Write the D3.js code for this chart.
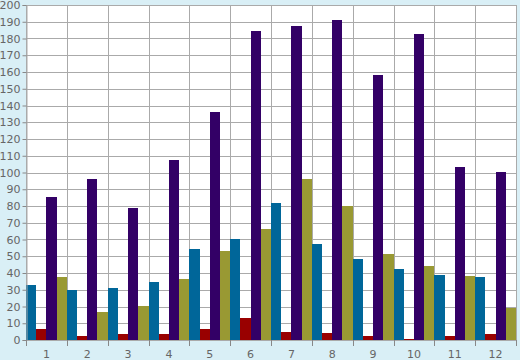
<!DOCTYPE html>
<html><head><meta charset="utf-8">
<script src="https://cdn.jsdelivr.net/npm/d3@7"></script>
<style>html,body{margin:0;padding:0;background:#d9eff6;}svg{display:block;}</style>
</head><body>
<svg id="chart" width="520" height="360"></svg>
<script>
const categories = ["1","2","3","4","5","6","7","8","9","10","11","12"];
const seriesNames = ["A","B","C","D"];
const seriesA = [33, 30, 31, 34.6, 54.3, 60.3, 81.8, 57.3, 48.4, 42.4, 38.8, 37.6];
const seriesB = [6.6, 2.4, 3.6, 3.6, 6.6, 13.1, 4.8, 4.2, 2.4, 0.6, 2.4, 3.6];
const seriesC = [85.6, 96.1, 78.8, 107.5, 136.3, 184.5, 187.5, 191, 158.2, 182.7, 103.3, 100.3];
const seriesD = [37.6, 16.7, 20.3, 36.4, 53.1, 66.3, 96.1, 80, 51.3, 44.2, 38.2, 19.1];
const colors = ["#006699", "#990000", "#330066", "#999933"];
const yTicks = d3.range(0, 201, 10);

(function () {
const allSeries = [seriesA, seriesB, seriesC, seriesD];
const svg = d3.select("#chart");
const pl = 26, pr = 516, pt = 5, pb = 340;

svg.append("rect").attr("x", 0).attr("y", 0).attr("width", 520).attr("height", 360).attr("fill", "#d9eff6");
svg.append("rect").attr("x", pl).attr("y", pt).attr("width", pr - pl).attr("height", pb - pt).attr("fill", "#ffffff");

const x = d3.scaleBand().domain(categories).range([pl, pr]).padding(0);
const xs = d3.scaleBand().domain(seriesNames).range([0, x.bandwidth()]).padding(0);
const y = d3.scaleLinear().domain([0, 200]).range([pb, pt]);

// horizontal grid
svg.append("g").selectAll("line").data(yTicks).join("line")
  .attr("x1", pl).attr("x2", pr)
  .attr("y1", d => Math.round(y(d)) + 0.5).attr("y2", d => Math.round(y(d)) + 0.5)
  .attr("stroke", "#aaaaaa").attr("stroke-width", 1);
// vertical grid
const bounds = categories.map(c => x(c)).concat([pr]);
svg.append("g").selectAll("line").data(bounds).join("line")
  .attr("x1", d => Math.round(d) + 0.5).attr("x2", d => Math.round(d) + 0.5)
  .attr("y1", pt).attr("y2", pb)
  .attr("stroke", "#aaaaaa").attr("stroke-width", 1);

// bars
const g = svg.append("g");
categories.forEach((c, i) => {
  allSeries.forEach((s, j) => {
    const x0 = x(c) + xs(seriesNames[j]);
    g.append("rect")
      .attr("x", x0)
      .attr("width", xs.bandwidth())
      .attr("y", y(s[i]))
      .attr("height", y(0) - y(s[i]))
      .attr("fill", colors[j])
      .attr("shape-rendering", "crispEdges");
  });
});

// y axis
const yAxis = d3.axisLeft(y).tickValues(yTicks).tickSize(4).tickPadding(2);
const ya = svg.append("g").attr("transform", `translate(${pl + 0.5},0)`).call(yAxis);
ya.select(".domain").attr("stroke", "#aaaaaa");
ya.selectAll(".tick line").attr("stroke", "#888888");
ya.selectAll("text").attr("fill", "#666666").style("font-family", "Verdana, 'DejaVu Sans', sans-serif").style("font-size", "11px");

// x axis: ticks at boundaries, labels centered
const xa = svg.append("g");
xa.selectAll("line").data(bounds).join("line")
  .attr("x1", d => Math.round(d) + 0.5).attr("x2", d => Math.round(d) + 0.5)
  .attr("y1", pb).attr("y2", pb + 6)
  .attr("stroke", "#888888");
xa.selectAll("text").data(categories).join("text")
  .attr("x", d => x(d) + x.bandwidth() / 2)
  .attr("y", 358)
  .attr("text-anchor", "middle")
  .attr("fill", "#666666")
  .style("font-family", "Verdana, 'DejaVu Sans', sans-serif")
  .style("font-size", "11px")
  .text(d => d);
})();
</script>
</body></html>
